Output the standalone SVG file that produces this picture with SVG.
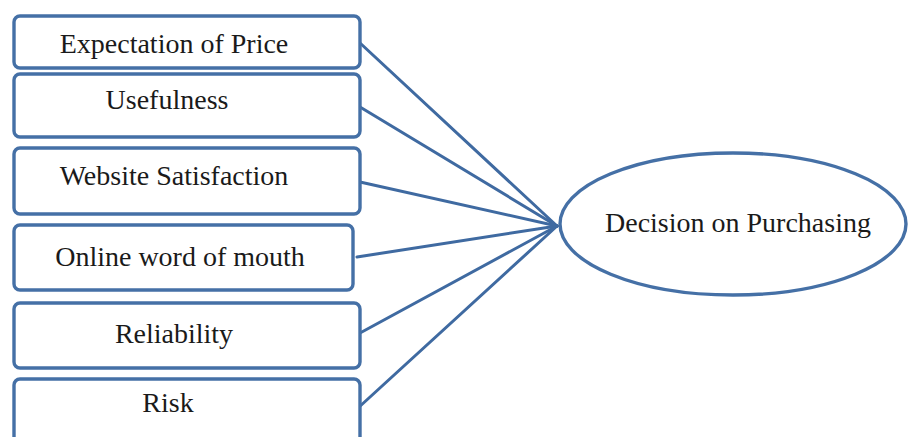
<svg xmlns="http://www.w3.org/2000/svg" width="909" height="437" viewBox="0 0 909 437">
  <style>
    .box { fill: #ffffff; stroke: #4570a6; stroke-width: 3.4; }
    .link { stroke: #3f6aa1; stroke-width: 3; fill: none; stroke-linecap: round; }
    .label { font-family: "Liberation Serif", "Times New Roman", serif; font-size: 28px; fill: #1a1a1a; text-anchor: middle; }
  </style>
  <rect width="909" height="437" fill="#ffffff"/>

  <g id="connectors">
    <line class="link" x1="360" y1="43" x2="557" y2="226"/>
    <line class="link" x1="360" y1="107" x2="557" y2="226"/>
    <line class="link" x1="360" y1="182" x2="557" y2="226"/>
    <line class="link" x1="357" y1="257" x2="557" y2="226"/>
    <line class="link" x1="360" y1="333" x2="557" y2="226"/>
    <line class="link" x1="358" y1="408" x2="557" y2="226"/>
  </g>

  <g id="expectation-of-price">
    <rect class="box" x="14" y="16" width="346" height="52" rx="6"/>
    <text class="label" x="174" y="53">Expectation of Price</text>
  </g>
  <g id="usefulness">
    <rect class="box" x="14" y="74" width="346" height="63" rx="6"/>
    <text class="label" x="167" y="109">Usefulness</text>
  </g>
  <g id="website-satisfaction">
    <rect class="box" x="14" y="148" width="346" height="66" rx="6"/>
    <text class="label" x="174" y="185">Website Satisfaction</text>
  </g>
  <g id="online-word-of-mouth">
    <rect class="box" x="14" y="225" width="339" height="65" rx="6"/>
    <text class="label" x="180" y="266">Online word of mouth</text>
  </g>
  <g id="reliability">
    <rect class="box" x="14" y="303" width="346" height="65" rx="6"/>
    <text class="label" x="174" y="343">Reliability</text>
  </g>
  <g id="risk">
    <rect class="box" x="14" y="379" width="346" height="70" rx="6"/>
    <text class="label" x="168" y="412">Risk</text>
  </g>

  <g id="decision-on-purchasing">
    <ellipse class="box" cx="733" cy="224" rx="173" ry="71"/>
    <text class="label" x="738" y="232">Decision on Purchasing</text>
  </g>
</svg>
